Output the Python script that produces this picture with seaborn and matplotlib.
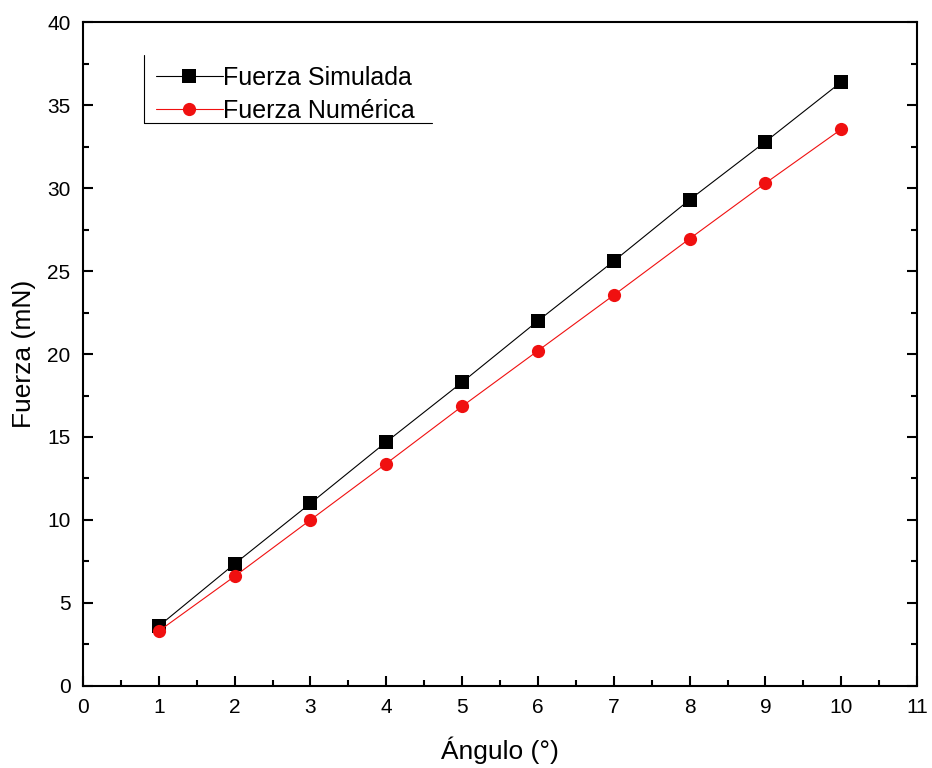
import matplotlib
matplotlib.use("Agg")
import matplotlib.pyplot as plt
import seaborn as sns
import pandas as pd
from matplotlib.ticker import MultipleLocator
from matplotlib.lines import Line2D

angulo = [1, 2, 3, 4, 5, 6, 7, 8, 9, 10]
fuerza_simulada = [3.6, 7.35, 11.0, 14.7, 18.3, 22.0, 25.6, 29.3, 32.8, 36.4]
fuerza_numerica = [3.3, 6.6, 10.0, 13.4, 16.85, 20.2, 23.55, 26.95, 30.3, 33.55]
series_names = ["Fuerza Simulada", "Fuerza Numérica"]

df = pd.concat([
    pd.DataFrame({"x": angulo, "y": fuerza_simulada, "s": series_names[0]}),
    pd.DataFrame({"x": angulo, "y": fuerza_numerica, "s": series_names[1]}),
])

sns.set_style("ticks")
plt.rcParams['font.family'] = ['Liberation Sans', 'DejaVu Sans']
plt.rcParams['text.color'] = 'black'
plt.rcParams['axes.labelcolor'] = 'black'
plt.rcParams['xtick.color'] = 'black'
plt.rcParams['ytick.color'] = 'black'

RED = "#f01010"

fig = plt.figure(figsize=(9.32, 7.68), dpi=100)
ax = fig.add_axes([0.089, 0.107, 0.895, 0.864])

sns.lineplot(data=df, x="x", y="y", hue="s", style="s",
             palette={series_names[0]: "black", series_names[1]: RED},
             markers={series_names[0]: "s", series_names[1]: "o"},
             dashes=False, linewidth=0.8, markersize=9.5, markeredgewidth=0,
             ax=ax, legend=False)

ax.set_xlim(0, 11)
ax.set_ylim(0, 40)
ax.xaxis.set_major_locator(MultipleLocator(1))
ax.xaxis.set_minor_locator(MultipleLocator(0.5))
ax.yaxis.set_major_locator(MultipleLocator(5))
ax.yaxis.set_minor_locator(MultipleLocator(2.5))
ax.tick_params(which="both", direction="in", right=True, top=False, width=1.5,
               labelsize=15, pad=9, colors="black")
ax.tick_params(which="major", length=7)
ax.tick_params(which="minor", length=4)
for sp in ax.spines.values():
    sp.set_linewidth(1.5)
    sp.set_color("black")

ax.set_xlabel("Ángulo (°)", fontsize=19, labelpad=14, color="black")
ax.set_ylabel("Fuerza (mN)", fontsize=19, labelpad=8, color="black")

handles = [
    Line2D([], [], color="black", marker="s", markersize=9.5, linewidth=0.8, markeredgewidth=0),
    Line2D([], [], color=RED, marker="o", markersize=9.5, linewidth=0.8, markeredgewidth=0),
]
leg = ax.legend(handles, series_names, loc="upper left", bbox_to_anchor=(0.087, 0.934),
                frameon=False, fontsize=18, handlelength=2.7, handletextpad=0.0,
                labelspacing=0.36, borderaxespad=0, borderpad=0)
for t in leg.get_texts():
    t.set_color("black")

# partial legend frame (left and bottom lines)
ax.plot([0.073, 0.073], [0.848, 0.95], transform=ax.transAxes, color="black", lw=0.8, clip_on=False)
ax.plot([0.073, 0.419], [0.848, 0.848], transform=ax.transAxes, color="black", lw=0.8, clip_on=False)

fig.savefig("out.png", dpi=100)
